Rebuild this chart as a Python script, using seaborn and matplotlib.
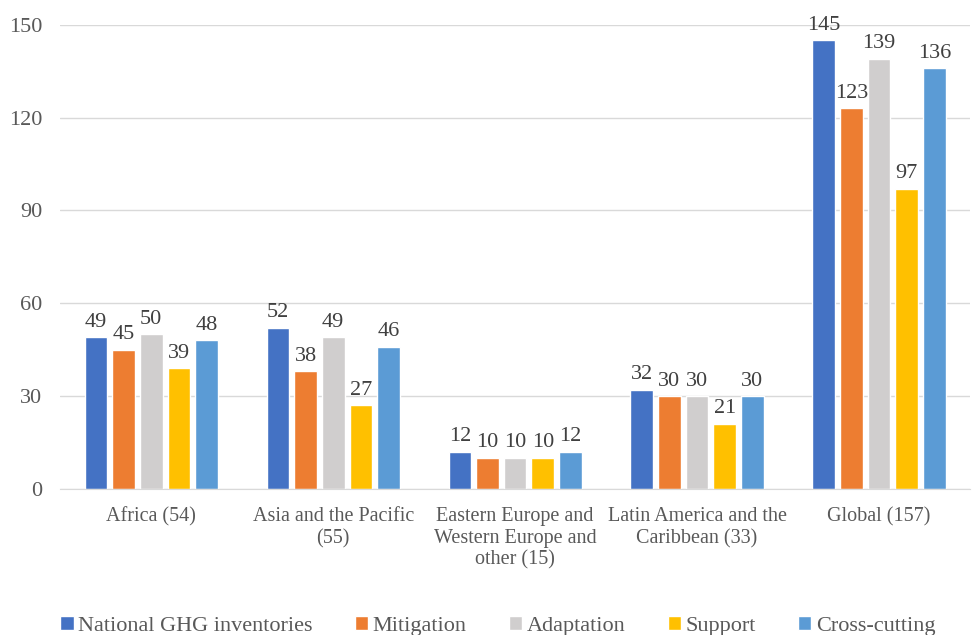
import pandas as pd
import matplotlib.pyplot as plt
import seaborn as sns

# chart data
regions = ["Africa (54)", "Asia and the Pacific\n(55)",
           "Eastern Europe and\nWestern Europe and\nother (15)",
           "Latin America and the\nCaribbean (33)", "Global (157)"]
series = ["National GHG inventories", "Mitigation", "Adaptation", "Support", "Cross-cutting"]
ghg = [49, 52, 12, 32, 145]
mitigation = [45, 38, 10, 30, 123]
adaptation = [50, 49, 10, 30, 139]
support = [39, 27, 10, 21, 97]
cross = [48, 46, 12, 30, 136]
colors = ["#4472C4", "#ED7D31", "#D0CECE", "#FFC000", "#5B9BD5"]

rows = []
for name, vals in zip(series, [ghg, mitigation, adaptation, support, cross]):
    for r, v in zip(regions, vals):
        rows.append({"region": r, "series": name, "value": v})
df = pd.DataFrame(rows)

sns.set_style("white")
plt.rcParams['font.family'] = ['Liberation Serif', 'DejaVu Serif']

fig = plt.figure(figsize=(9.72, 6.35), dpi=100)
ax = fig.add_axes([0.062, 0.23, 0.936, 0.731])

sns.barplot(data=df, x="region", y="value", hue="series", hue_order=series,
            palette=colors, width=0.76, gap=0.18, saturation=1, ax=ax,
            errorbar=None, legend=True)

for cont in ax.containers:
    ax.bar_label(cont, fmt="%d", padding=4, fontsize=16, color="#404040")

ax.set_ylim(0, 150)
ax.set_yticks([0, 30, 60, 90, 120, 150])
ax.yaxis.grid(True, color="#D9D9D9", linewidth=1)
ax.set_axisbelow(True)
for s in ["top", "right", "left"]:
    ax.spines[s].set_visible(False)
ax.spines["bottom"].set_color("#D9D9D9")
ax.tick_params(axis="x", length=0, labelsize=14.5, labelcolor="#595959", pad=13)
ax.tick_params(axis="y", length=0, labelsize=16, labelcolor="#595959", pad=13)
ax.set_xlabel("")
ax.set_ylabel("")
ax.set_xlim(-0.5, 4.5)

ax.legend(loc="center", bbox_to_anchor=(0.481, -0.295), ncol=5, frameon=False,
          fontsize=16, handlelength=0.6, handleheight=0.6, handletextpad=0.2,
          columnspacing=1.9, labelcolor="#595959")

fig.savefig("out.png", dpi=100)
